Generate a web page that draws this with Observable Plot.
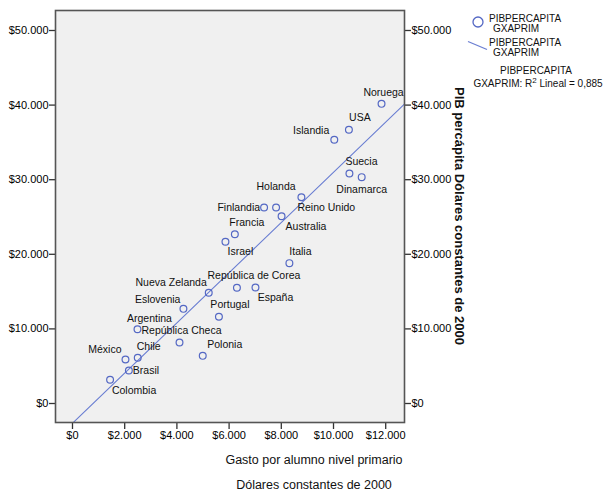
<!DOCTYPE html>
<html>
<head>
<meta charset="utf-8">
<script src="https://cdn.jsdelivr.net/npm/d3@7"></script>
<script src="https://cdn.jsdelivr.net/npm/@observablehq/plot@0.6"></script>
<style>
  html, body { margin: 0; padding: 0; background: #fff; }
  #chart svg { display: block; }
</style>
</head>
<body>
<div id="chart"></div>
<script>
// ---- data ----
const countries = ["Noruega","USA","Islandia","Suecia","Dinamarca","Reino Unido","Holanda","Finlandia","Australia","Francia","Israel","Italia","República de Corea","España","Nueva Zelanda","Eslovenia","Portugal","Argentina","República Checa","Polonia","México","Chile","Brasil","Colombia"];
const gastoPrimario = [11840,10590,10030,10610,11080,8770,7800,7340,8010,6220,5860,8310,6300,7010,5220,4250,5610,2490,4100,4990,2030,2500,2160,1440];
const pibPercapita = [40170,36690,35350,30830,30340,27650,26270,26270,25110,22690,21680,18810,15510,15550,14840,12690,11620,9960,8180,6390,5900,6130,4420,3180];
const xTicks = [0,2000,4000,6000,8000,10000,12000];
const yTicks = [0,10000,20000,30000,40000,50000];
const r2Text = "0,885";
const legendSeries = "PIBPERCAPITA";
const legendSeries2 = "GXAPRIM";
const xTitle1 = "Gasto por alumno nivel primario";
const xTitle2 = "Dólares constantes de 2000";
const yTitle = "PIB percápita Dólares constantes de 2000";

// label placement (style only)
const labelPlacement = {
  "Noruega": ["middle", 2, -11], "USA": ["middle", 11, -12], "Islandia": ["end", -5, -9],
  "Suecia": ["middle", 12, -12], "Dinamarca": ["middle", 0, 12], "Reino Unido": ["start", -4, 10],
  "Holanda": ["middle", 0, -21], "Finlandia": ["end", -4, 0], "Australia": ["start", 4, 10],
  "Francia": ["middle", 12, -12], "Israel": ["middle", 15, 10], "Italia": ["middle", 11, -12],
  "República de Corea": ["middle", 17, -12], "España": ["middle", 20, 10], "Nueva Zelanda": ["end", -2, -10],
  "Eslovenia": ["end", -3, -9], "Portugal": ["middle", 11, -12], "Argentina": ["middle", 12, -11],
  "República Checa": ["middle", 2, -12], "Polonia": ["middle", 22, -11], "México": ["end", -4, -10],
  "Chile": ["middle", 11, -11], "Brasil": ["start", 4, 0], "Colombia": ["middle", 24, 11]
};

const data = countries.map((c, i) => ({name: c, x: gastoPrimario[i], y: pibPercapita[i]}));

// linear fit
const mx = d3.mean(data, d => d.x), my = d3.mean(data, d => d.y);
const slope = d3.sum(data, d => (d.x - mx) * (d.y - my)) / d3.sum(data, d => (d.x - mx) ** 2);
const intercept = my - slope * mx;

const xDomain = [-651, 12720];
const yDomain = [-2547, 52680];
const fitLine = xDomain.map(x => ({x, y: intercept + slope * x}));

const locale = d3.formatLocale({decimal: ",", thousands: ".", grouping: [3], currency: ["$", ""]});
const fmt = locale.format("$,.0f");

const blue = "#5468c4";
const font = "Liberation Sans, Arial, sans-serif";

const labelMarks = data.map(d => {
  const p = labelPlacement[d.name];
  return Plot.text([d], {x: "x", y: "y", text: "name", textAnchor: p[0], dx: p[1], dy: p[2], fontSize: 10.5, fill: "#111"});
});

const chart = Plot.plot({
  width: 606,
  height: 492,
  marginLeft: 55,
  marginRight: 202,
  marginTop: 10,
  marginBottom: 70,
  style: {fontFamily: font, background: "#fff", overflow: "visible"},
  x: {domain: xDomain},
  y: {domain: yDomain},
  marks: [
    Plot.frame({fill: "#f0f0f0", stroke: "none"}),
    Plot.line(fitLine, {x: "x", y: "y", stroke: "#6a7ed2", strokeWidth: 1.1, clip: true}),
    Plot.dot(data, {x: "x", y: "y", r: 3.4, stroke: blue, strokeWidth: 1.2, fill: "none"}),
    ...labelMarks,
    Plot.axisX({ticks: xTicks, tickFormat: fmt, tickSize: 7, tickPadding: 2, fontSize: 11, label: null, stroke: "#333", strokeWidth: 1.3}),
    Plot.axisY({anchor: "left", ticks: yTicks, tickFormat: fmt, tickSize: 6, tickPadding: 1, fontSize: 11, label: null, stroke: "#333", strokeWidth: 1.3}),
    Plot.axisY({anchor: "right", ticks: yTicks, tickFormat: fmt, tickSize: 6, tickPadding: 1, fontSize: 11, label: null, stroke: "#333", strokeWidth: 1.3}),
    Plot.frame({stroke: "#555", strokeWidth: 1.6})
  ]
});

document.getElementById("chart").appendChild(chart);

// extra text: titles and legend
const svg = d3.select(chart);
const g = svg.append("g").attr("font-family", font).attr("fill", "#111").attr("text-anchor", "start");

g.append("text").attr("x", 314).attr("y", 464).attr("text-anchor", "middle").attr("font-size", 12.5).text(xTitle1);
g.append("text").attr("x", 314).attr("y", 489).attr("text-anchor", "middle").attr("font-size", 12.5).text(xTitle2);

g.append("text")
  .attr("transform", "translate(459,216) rotate(90)")
  .attr("text-anchor", "middle").attr("dominant-baseline", "central")
  .attr("font-size", 13).attr("font-weight", "bold").text(yTitle);

// legend
g.append("circle").attr("cx", 478).attr("cy", 22).attr("r", 5).attr("fill", "none").attr("stroke", blue).attr("stroke-width", 1.3);
g.append("text").attr("x", 489).attr("y", 22).attr("text-anchor", "start").attr("font-size", 10).text(legendSeries);
g.append("text").attr("x", 493).attr("y", 31.5).attr("text-anchor", "start").attr("font-size", 10).text(legendSeries2);
g.append("line").attr("x1", 468).attr("y1", 41.5).attr("x2", 487).attr("y2", 49.5).attr("stroke", "#6a7ed2").attr("stroke-width", 1.2);
g.append("text").attr("x", 489).attr("y", 46).attr("text-anchor", "start").attr("font-size", 10).text(legendSeries);
g.append("text").attr("x", 493).attr("y", 55.5).attr("text-anchor", "start").attr("font-size", 10).text(legendSeries2);
g.append("text").attr("x", 536).attr("y", 73.5).attr("text-anchor", "middle").attr("font-size", 10).text(legendSeries);
const t = g.append("text").attr("x", 538).attr("y", 87).attr("text-anchor", "middle").attr("font-size", 10);
t.append("tspan").text(legendSeries2 + ": R");
t.append("tspan").attr("font-size", 8).attr("dy", -4).text("2");
t.append("tspan").attr("dy", 4).text(" Lineal = " + r2Text);
</script>
</body>
</html>
